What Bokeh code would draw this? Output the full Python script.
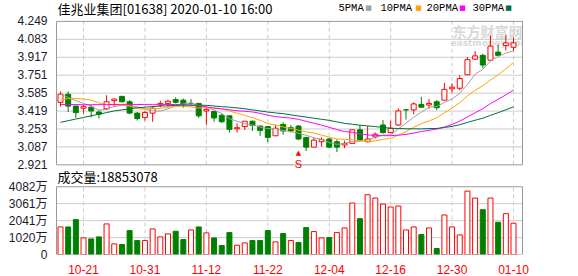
from bokeh.plotting import figure
from bokeh.models import ColumnDataSource, FixedTicker, Range1d, PrintfTickFormatter
from bokeh.core.properties import value
from bokeh.embed import file_html
from bokeh.resources import INLINE

# ---------------- data ----------------
dates = ["10-16", "10-17", "10-18", "10-21", "10-22", "10-23", "10-24", "10-25", "10-28", "10-29",
         "10-30", "10-31", "11-01", "11-04", "11-05", "11-06", "11-07", "11-08", "11-11", "11-12",
         "11-13", "11-14", "11-15", "11-18", "11-19", "11-20", "11-21", "11-22", "11-25", "11-26",
         "11-27", "11-28", "11-29", "12-02", "12-03", "12-04", "12-05", "12-06", "12-09", "12-10",
         "12-11", "12-12", "12-13", "12-16", "12-17", "12-18", "12-19", "12-20", "12-23", "12-24",
         "12-27", "12-30", "12-31", "01-02", "01-03", "01-06", "01-07", "01-08", "01-09", "01-10"]

opens = [3.50, 3.575, 3.465, 3.445, 3.455, 3.41, 3.44, 3.515, 3.555, 3.505,
         3.40, 3.36, 3.40, 3.475, 3.49, 3.525, 3.52, 3.49, 3.49, 3.42,
         3.415, 3.38, 3.375, 3.255, 3.275, 3.325, 3.28, 3.275, 3.19, 3.295,
         3.265, 3.28, 3.175, 3.085, 3.135, 3.16, 3.135, 3.105, 3.12, 3.245,
         3.135, 3.18, 3.29, 3.22, 3.29, 3.43, 3.43, 3.48, 3.475, 3.505,
         3.52, 3.625, 3.63, 3.755, 3.90, 3.935, 3.89, 3.965, 4.025, 4.01]
highs = [3.60, 3.60, 3.47, 3.475, 3.475, 3.43, 3.565, 3.535, 3.56, 3.52,
         3.41, 3.42, 3.465, 3.515, 3.525, 3.545, 3.535, 3.53, 3.49, 3.445,
         3.425, 3.395, 3.375, 3.305, 3.325, 3.33, 3.285, 3.28, 3.29, 3.315,
         3.29, 3.29, 3.18, 3.175, 3.175, 3.17, 3.155, 3.145, 3.25, 3.29,
         3.28, 3.22, 3.335, 3.33, 3.445, 3.43, 3.50, 3.55, 3.53, 3.52,
         3.68, 3.675, 3.75, 3.92, 3.975, 3.95, 4.12, 4.035, 4.12, 4.10]
lows = [3.46, 3.41, 3.355, 3.395, 3.36, 3.35, 3.43, 3.455, 3.50, 3.39,
        3.33, 3.33, 3.32, 3.455, 3.46, 3.49, 3.45, 3.48, 3.355, 3.29,
        3.32, 3.31, 3.22, 3.22, 3.245, 3.235, 3.19, 3.13, 3.19, 3.20,
        3.22, 3.15, 3.05, 3.085, 3.09, 3.08, 3.04, 3.075, 3.12, 3.15,
        3.13, 3.165, 3.21, 3.22, 3.28, 3.34, 3.39, 3.455, 3.44, 3.43,
        3.52, 3.59, 3.61, 3.755, 3.89, 3.815, 3.89, 3.93, 3.98, 3.975]
closes = [3.575, 3.465, 3.405, 3.46, 3.42, 3.39, 3.505, 3.53, 3.505, 3.40,
          3.35, 3.405, 3.445, 3.49, 3.51, 3.50, 3.485, 3.49, 3.375, 3.435,
          3.355, 3.32, 3.25, 3.265, 3.325, 3.285, 3.24, 3.175, 3.26, 3.235,
          3.235, 3.16, 3.085, 3.15, 3.155, 3.085, 3.085, 3.12, 3.245, 3.15,
          3.16, 3.205, 3.22, 3.26, 3.42, 3.43, 3.485, 3.455, 3.49, 3.45,
          3.62, 3.64, 3.72, 3.895, 3.93, 3.845, 4.02, 3.935, 4.05, 4.05]
volumes = [16630000, 16600000, 21010000, 10000000, 9400000, 10620000, 18420000, 6400000, 6000000, 14410000,
           8400000, 8400000, 15410000, 10620000, 12420000, 14000000, 9000000, 14810000, 16630000, 13010000,
           10000000, 5400000, 13200000, 5600000, 7000000, 8400000, 8400000, 14410000, 7600000, 12600000,
           8400000, 7200000, 16210000, 13810000, 10000000, 10200000, 13210000, 16010000, 31030000, 21610000,
           36020000, 34020000, 30420000, 28620000, 29220000, 14810000, 16610000, 12010000, 16010000, 3600000,
           23810000, 16610000, 11810000, 38220000, 34020000, 27010000, 34020000, 19410000, 24610000, 18853078]

ma5 = [3.576, 3.545, 3.515, 3.490, 3.465, 3.428, 3.436, 3.462, 3.471, 3.466,
       3.458, 3.438, 3.421, 3.418, 3.440, 3.470, 3.485, 3.495, 3.472, 3.459,
       3.428, 3.396, 3.348, 3.325, 3.303, 3.288, 3.272, 3.257, 3.256, 3.238,
       3.229, 3.213, 3.195, 3.172, 3.157, 3.127, 3.111, 3.119, 3.137, 3.139,
       3.153, 3.176, 3.196, 3.199, 3.253, 3.307, 3.362, 3.409, 3.455, 3.461,
       3.500, 3.531, 3.584, 3.665, 3.761, 3.805, 3.882, 3.924, 3.955, 3.979]
ma10 = [3.520, 3.535, 3.535, 3.530, 3.520, 3.495, 3.480, 3.475, 3.475, 3.466,
        3.443, 3.437, 3.441, 3.444, 3.453, 3.463, 3.461, 3.458, 3.446, 3.450,
        3.449, 3.441, 3.421, 3.399, 3.380, 3.357, 3.334, 3.302, 3.291, 3.271,
        3.258, 3.242, 3.226, 3.215, 3.197, 3.177, 3.161, 3.156, 3.154, 3.146,
        3.138, 3.143, 3.157, 3.167, 3.195, 3.229, 3.269, 3.303, 3.327, 3.357,
        3.403, 3.446, 3.496, 3.560, 3.611, 3.653, 3.706, 3.754, 3.810, 3.870]
ma20 = [3.480, 3.480, 3.479, 3.478, 3.478, 3.478, 3.479, 3.480, 3.481, 3.481,
        3.480, 3.479, 3.478, 3.478, 3.479, 3.480, 3.478, 3.472, 3.465, 3.457,
        3.446, 3.439, 3.431, 3.422, 3.417, 3.411, 3.398, 3.380, 3.368, 3.360,
        3.354, 3.342, 3.324, 3.307, 3.289, 3.268, 3.248, 3.229, 3.222, 3.208,
        3.198, 3.193, 3.191, 3.191, 3.196, 3.203, 3.215, 3.229, 3.241, 3.252,
        3.271, 3.295, 3.326, 3.364, 3.403, 3.441, 3.488, 3.528, 3.569, 3.614]
ma30 = [3.315, 3.330, 3.345, 3.360, 3.375, 3.390, 3.405, 3.420, 3.430, 3.440,
        3.450, 3.455, 3.460, 3.465, 3.468, 3.472, 3.474, 3.475, 3.474, 3.472,
        3.466, 3.460, 3.455, 3.448, 3.440, 3.430, 3.420, 3.410, 3.402, 3.395,
        3.384, 3.373, 3.363, 3.353, 3.343, 3.333, 3.319, 3.305, 3.297, 3.288,
        3.282, 3.275, 3.268, 3.260, 3.258, 3.255, 3.255, 3.254, 3.257, 3.258,
        3.267, 3.277, 3.293, 3.314, 3.334, 3.353, 3.379, 3.404, 3.431, 3.458]

price_ticks = [2.921, 3.087, 3.253, 3.419, 3.585, 3.751, 3.917, 4.083, 4.249]
vol_ticks = [0, 10205000, 20410000, 30615000, 40820000]
vol_tick_labels = ["0", "1020万", "2041万", "3061万", "4082万"]
ma_names = ["5PMA", "10PMA", "20PMA", "30PMA"]
title_text = "佳兆业集团[01638] 2020-01-10 16:00"
vol_title = "成交量:18853078"
signal_idx = [31]
signal_text = ["S"]

# ---------------- layout / styles ----------------
RED = "#ff0000"
GREEN = "#008000"
MA_COLORS = ["#a0a0a0", "#ffa500", "#ff00ff", "#006f3c"]
GRID = "#cccccc"
BORDER = "#999999"
LAT = "Liberation Sans"
CJK = "Noto Sans CJK SC"
MIXED = "'Liberation Sans', 'Noto Sans CJK SC'"

W, H = 578, 276
FL, FR, FB = 55, 55, 21           # frame: x 55..523, y 0..255
FW, FH = W - FL - FR, H - FB
BAR0_SX, BAR_PX = 60.0, 7.678     # screen x of first bar, pixels per bar
P_TOP_SY, P_BOT_SY = 21, 165      # price panel
V_TOP_SY, V_BOT_SY = 187, 255     # volume panel
BOX_L_SX, BOX_R_SX = 56, 522

n = len(dates)
idx = list(range(n))
label_ticks = list(range(3, n, 8))
up = [c > o for o, c in zip(opens, closes)]
prev = [opens[0]] + closes[:-1]
vol_up = [c >= pc for c, pc in zip(closes, prev)]

y_lo, y_hi = price_ticks[0], price_ticks[-1]
pp = (y_hi - y_lo) / (P_BOT_SY - P_TOP_SY)          # price per pixel
v_hi = vol_ticks[-1]
vp = v_hi / (V_BOT_SY - V_TOP_SY)                    # volume per pixel


def fx(sx):
    return (sx - BAR0_SX) / BAR_PX


def fy(sy):
    return y_hi - (sy - P_TOP_SY) * pp


x_lo, x_hi = fx(FL), fx(FL + FW)
xb0, xb1 = fx(BOX_L_SX), fx(BOX_R_SX)

src = ColumnDataSource(dict(
    i=idx, o=opens, h=highs, l=lows, c=closes,
    bt=[max(o, c) for o, c in zip(opens, closes)],
    bb=[min(o, c) for o, c in zip(opens, closes)],
    fill=["white" if u else GREEN for u in up],
    line=[RED if u else GREEN for u in up],
    vol=volumes,
    vfill=["white" if u else GREEN for u in vol_up],
    vline=[RED if u else GREEN for u in vol_up],
    ma5=ma5, ma10=ma10, ma20=ma20, ma30=ma30,
))

p = figure(width=W, height=H, x_range=Range1d(x_lo, x_hi),
           y_range=Range1d(fy(V_BOT_SY), fy(0)),
           output_backend="svg", toolbar_location=None,
           min_border_left=FL, min_border_right=FR, min_border_top=0, min_border_bottom=FB)
p.extra_y_ranges = {"vol": Range1d(0, V_BOT_SY * vp)}
p.outline_line_color = None
p.background_fill_color = "white"
p.border_fill_color = "white"
p.xgrid.visible = False
p.ygrid.visible = False

# left axis: price ticks plus volume ticks placed at their screen heights
vol_tick_pos = [fy(V_BOT_SY - t / vp) for t in vol_ticks]
ya = p.yaxis[0]
ya.ticker = FixedTicker(ticks=price_ticks + vol_tick_pos)
ya.formatter = PrintfTickFormatter(format="%.3f")
ya.major_label_overrides = {pos: lab for pos, lab in zip(vol_tick_pos, vol_tick_labels)}
ya.major_label_text_font = MIXED
ya.major_label_text_font_size = "12px"
ya.major_label_text_color = "#1a1a2e"
ya.axis_line_color = None
ya.major_tick_line_color = None
ya.minor_tick_line_color = None
ya.major_label_standoff = 2

xa = p.xaxis[0]
xa.ticker = FixedTicker(ticks=label_ticks)
xa.major_label_overrides = {t: dates[t] for t in label_ticks}
xa.major_label_text_font = LAT
xa.major_label_text_font_size = "12px"
xa.major_label_text_color = RED
xa.axis_line_color = None
xa.major_tick_line_color = None
xa.minor_tick_line_color = None
xa.major_label_standoff = 4

# grid lines
inner_p = price_ticks[1:-1]
p.segment(x0=[xb0] * len(inner_p), x1=[xb1] * len(inner_p), y0=inner_p, y1=inner_p,
          line_color=GRID, line_width=1)
inner_v = vol_ticks[1:-1]
p.segment(x0=[xb0] * len(inner_v), x1=[xb1] * len(inner_v), y0=inner_v, y1=inner_v,
          line_color=GRID, line_width=1, y_range_name="vol")
p.segment(x0=label_ticks, x1=label_ticks, y0=[y_lo] * len(label_ticks), y1=[y_hi] * len(label_ticks),
          line_color=GRID, line_width=1, line_dash="4 3")
p.segment(x0=label_ticks, x1=label_ticks, y0=[0] * len(label_ticks), y1=[v_hi] * len(label_ticks),
          line_color=GRID, line_width=1, line_dash="4 3", y_range_name="vol")

# watermark
p.text(x=[fx(452)], y=[fy(31)], text=["东方财富网"], text_color="#d8d8d8",
       text_font=value(CJK), text_font_size="14px", text_font_style="bold",
       text_baseline="middle", text_align="left")
p.text(x=[fx(450)], y=[fy(43)], text=["eastmoney.com"], text_color="#d8d8d8",
       text_font=value("DejaVu Sans"), text_font_size="9px", text_font_style="bold",
       text_baseline="middle", text_align="left")

# candles
p.segment(x0="i", y0="h", x1="i", y1="l", line_color="line", line_width=1, source=src)
p.vbar(x="i", width=0.65, top="bt", bottom="bb", fill_color="fill", line_color="line",
       line_width=1, source=src)

# moving averages
for key, col in zip(["ma5", "ma10", "ma20", "ma30"], MA_COLORS):
    p.line(x="i", y=key, line_color=col, line_width=1, source=src)

# volume bars
p.vbar(x="i", width=0.65, top="vol", bottom=0, fill_color="vfill", line_color="vline",
       line_width=1, source=src, y_range_name="vol")

# panel borders
p.quad(left=[xb0], right=[xb1], bottom=[y_lo], top=[y_hi], fill_color=None,
       line_color=BORDER, line_width=1)
p.quad(left=[xb0], right=[xb1], bottom=[0], top=[v_hi], fill_color=None,
       line_color=BORDER, line_width=1, y_range_name="vol")

# signal marker
p.text(x=signal_idx, y=[y_lo] * len(signal_idx), text=signal_text, text_color=RED,
       text_font=value(LAT), text_font_size="11px", text_align="center",
       text_baseline="alphabetic", y_offset=-1)
p.text(x=signal_idx, y=[y_lo] * len(signal_idx), text=["▲"] * len(signal_idx), text_color=RED,
       text_font=value("DejaVu Sans"), text_font_size="7px", text_align="center",
       text_baseline="middle", y_offset=-12)

# title, legend, volume caption
p.text(x=[fx(57)], y=[fy(8)], text=[title_text], text_font=value(CJK), text_font_size="13px",
       text_color="#000000", text_baseline="middle", text_align="left")
leg_text_sx = [338, 380, 426, 472]
leg_box_sx = [368, 418, 462, 508]
p.text(x=[fx(s) for s in leg_text_sx], y=[fy(8)] * 4, text=ma_names,
       text_font=value("Liberation Mono"), text_font_size="10.5px", text_color="#000000",
       text_baseline="middle", text_align="left")
p.text(x=[fx(s) for s in leg_box_sx], y=[fy(8)] * 4, text=["■"] * 4,
       text_font=value("DejaVu Sans"), text_font_size="7px", text_color=MA_COLORS,
       text_baseline="middle", text_align="center")
p.text(x=[fx(57)], y=[fy(177)], text=[vol_title], text_font=value(CJK), text_font_size="13px",
       text_color="#000000", text_baseline="middle", text_align="left")

open("out.html", "w").write(file_html(p, INLINE))
